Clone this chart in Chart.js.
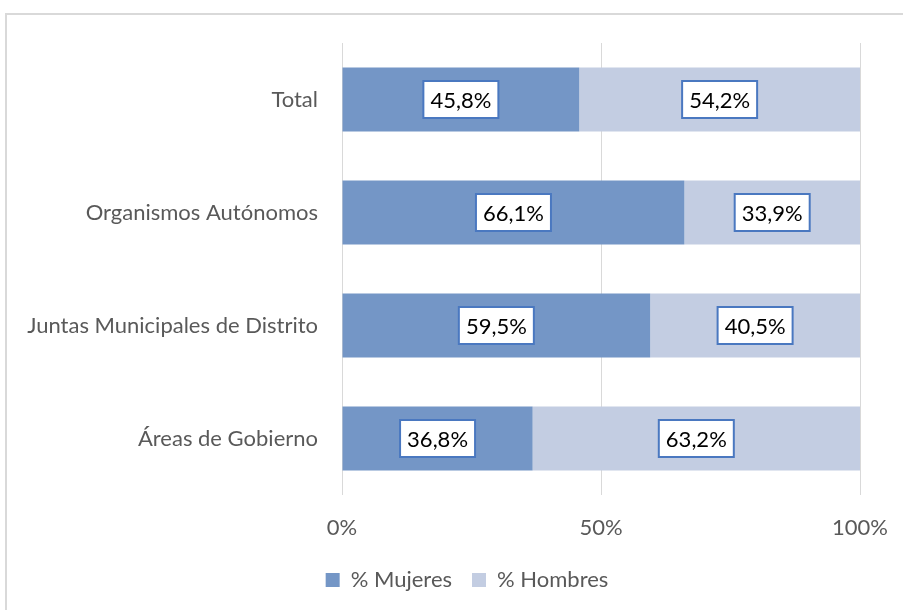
<!DOCTYPE html>
<html>
<head>
<meta charset="utf-8">
<script src="https://cdn.jsdelivr.net/npm/chart.js@4"></script>
<style>
  html, body { margin: 0; padding: 0; background: #fff; overflow: hidden; }
  #frame { position: absolute; left: 5px; top: 13px; width: 920px; height: 620px; border: 2px solid #d9d9d9; box-sizing: border-box; }
  #wrap { position: absolute; left: 0; top: 0; width: 903px; height: 610px; }
</style>
</head>
<body>
<div id="frame"></div>
<div id="wrap"><canvas id="chart" width="903" height="610"></canvas></div>
<script>
// datos
const categorias = ['Total', 'Organismos Autónomos', 'Juntas Municipales de Distrito', 'Áreas de Gobierno'];
const mujeres = [45.8, 66.1, 59.5, 36.8];
const hombres = [54.2, 33.9, 40.5, 63.2];
const ticksX = [0, 50, 100];

const FONT = "Lato, 'Open Sans', sans-serif";
const GRIS = '#595959';

// etiquetas con caja blanca sobre cada segmento
const cajas = {
  id: 'cajas',
  afterDatasetsDraw(chart) {
    const ctx = chart.ctx;
    ctx.save();
    ctx.font = '22px ' + FONT;
    ctx.textAlign = 'center';
    ctx.textBaseline = 'middle';
    chart.data.datasets.forEach((ds, i) => {
      chart.getDatasetMeta(i).data.forEach((bar, j) => {
        const cx = (bar.x + bar.base) / 2;
        const cy = bar.y;
        const w = 75, h = 37;
        ctx.fillStyle = '#fff';
        ctx.fillRect(cx - w / 2, cy - h / 2, w, h);
        ctx.strokeStyle = '#4a78c0';
        ctx.lineWidth = 2;
        ctx.strokeRect(cx - w / 2, cy - h / 2, w, h);
        ctx.fillStyle = '#000';
        ctx.fillText(ds.data[j].toFixed(1).replace('.', ',') + '%', cx, cy + 1);
      });
    });
    ctx.restore();
  }
};

// la leyenda del original está algo desplazada a la derecha
const moverLeyenda = {
  id: 'moverLeyenda',
  afterLayout(chart) {
    const lg = chart.legend;
    if (!lg) return;
    lg.left += 37;
    lg.right += 37;
  }
};

new Chart(document.getElementById('chart'), {
  type: 'bar',
  data: {
    labels: categorias,
    datasets: [
      { label: '% Mujeres', data: mujeres, backgroundColor: '#7496c6' },
      { label: '% Hombres', data: hombres, backgroundColor: '#c3cde2' }
    ]
  },
  options: {
    indexAxis: 'y',
    responsive: false,
    animation: false,
    layout: { padding: { top: 43, right: 43, left: 0, bottom: 9 } },
    datasets: { bar: { categoryPercentage: 1, barPercentage: 0.566 } },
    plugins: {
      tooltip: { enabled: false },
      legend: {
        position: 'bottom',
        labels: {
          font: { size: 22, family: FONT },
          color: GRIS,
          boxWidth: 14,
          boxHeight: 14,
          padding: 20
        }
      }
    },
    scales: {
      x: {
        stacked: true,
        min: 0, max: 100,
        afterBuildTicks(scale) { scale.ticks = ticksX.map(v => ({ value: v })); },
        afterFit(scale) { scale.height = 54; scale.paddingLeft = 0; scale.paddingRight = 0; },
        grid: { color: '#d9d9d9', lineWidth: 1, drawTicks: false },
        border: { display: false },
        ticks: { padding: 20, color: GRIS, font: { size: 22, family: FONT }, callback: v => v + '%' }
      },
      y: {
        stacked: true,
        afterFit(scale) { scale.width = 342; },
        grid: { display: false, drawTicks: false },
        border: { display: false },
        ticks: { padding: 24, color: GRIS, font: { size: 22, family: FONT } }
      }
    }
  },
  plugins: [cajas, moverLeyenda]
});
</script>
</body>
</html>
